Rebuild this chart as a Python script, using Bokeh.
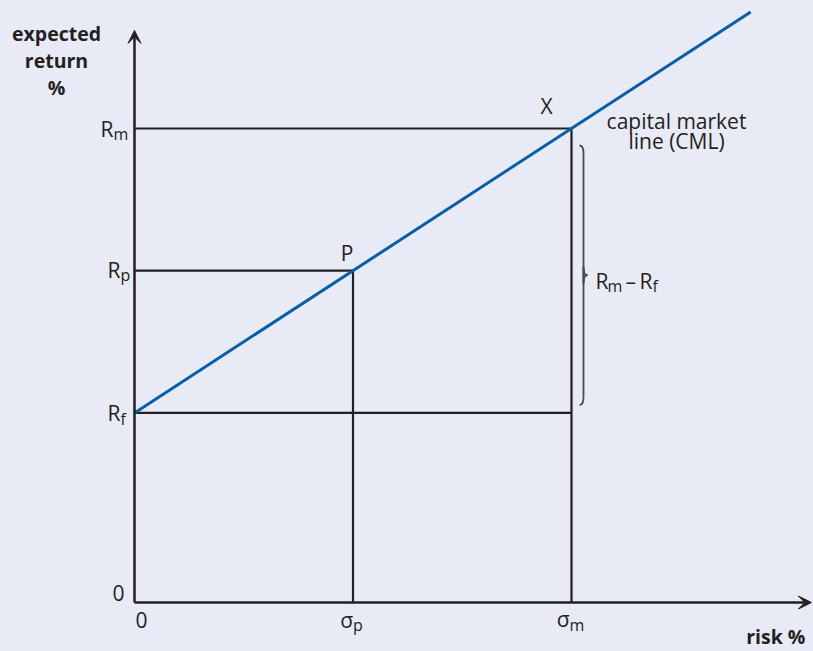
from bokeh.plotting import figure
from bokeh.models import Range1d, Arrow, VeeHead
from bokeh.core.properties import value
from bokeh.embed import file_html
from bokeh.resources import INLINE

# ---- data (chart units) ----
sigma_p = 5.0
sigma_m = 10.0
R_f = 4.0
R_p = 7.0
R_m = 10.0
cml_x_end = 14.1
x_axis_end = 15.49
y_axis_end = 12.07
cml_slope = (R_m - R_f) / sigma_m

# ---- layout ----
W, H = 813, 651
SX, SY = 43.7, 47.4          # pixels per unit
OX, OY = 134, 602            # pixel position of origin within the figure
BG = "#e8eaf6"
INK = "#231f20"
BLUE = "#0a5ea8"
FONT = value("Open Sans")
TEXT_SHIFT = -8              # renderer baseline correction, pixels

x0 = -OX / SX
y0 = -(H - OY) / SY
p = figure(width=W, height=H, output_backend="svg", toolbar_location=None,
           x_range=Range1d(x0, x0 + W / SX), y_range=Range1d(y0, y0 + H / SY),
           min_border=0, background_fill_color=BG, border_fill_color=BG)
p.axis.visible = False
p.grid.visible = False
p.outline_line_color = None


def at(xd, yd, dx=0, dy=0):
    """data anchor plus pixel offset (dy positive = downwards)"""
    return xd + dx / SX, yd - dy / SY


def txt(xd, yd, s, dx=0, dy=0, size=21, align="left", bold=False, color=INK):
    x, y = at(xd, yd, dx, dy + TEXT_SHIFT)
    p.text(x=[x], y=[y], text=[s], text_font=FONT, text_font_size=f"{size}px",
           text_align=align, text_baseline="alphabetic", text_color=color,
           text_font_style="bold" if bold else "normal")


SUB = 16
BOLD = 19.5

# ---- axes ----
for xe, ye in [(0, y_axis_end), (x_axis_end, 0)]:
    p.add_layout(Arrow(end=VeeHead(size=13, fill_color=INK, line_color=INK, line_width=1),
                       x_start=0, y_start=0, x_end=xe, y_end=ye,
                       line_color=INK, line_width=2.5))

# ---- guide lines ----
p.segment(x0=[0, 0, 0, sigma_p, sigma_m], y0=[R_m, R_p, R_f, R_p, R_m],
          x1=[sigma_m, sigma_p, sigma_m, sigma_p, sigma_m], y1=[R_m, R_p, R_f, 0, 0],
          line_color=INK, line_width=2.2)

# ---- capital market line ----
p.line(x=[0, cml_x_end], y=[R_f, R_f + cml_slope * cml_x_end], line_color=BLUE, line_width=3)

# ---- brace for Rm - Rf ----
top = at(sigma_m, R_m, 0, 17)[1]
bot = at(sigma_m, R_f, 0, -8)[1]
mid = (top + bot) / 2
ex = at(sigma_m, 0, 8)[0]
sx = at(sigma_m, 0, 12)[0]
tx = at(sigma_m, 0, 16)[0]
r = 8 / SY
BR = "#4a4a4a"
p.quadratic(x0=[ex, sx, tx, sx], y0=[top, mid - r, mid, bot + r],
            x1=[sx, tx, sx, ex], y1=[top - r, mid, mid + r, bot],
            cx=[sx, sx, sx, sx], cy=[top, mid, mid, bot],
            line_color=BR, line_width=1.8)
p.segment(x0=[sx, sx], y0=[top - r, mid + r], x1=[sx, sx], y1=[mid - r, bot + r],
          line_color=BR, line_width=1.8)

# ---- axis titles ----
txt(0, y_axis_end, "expected", dx=-78, dy=11, size=BOLD, align="center", bold=True)
txt(0, y_axis_end, "return", dx=-78, dy=38, size=BOLD, align="center", bold=True)
txt(0, y_axis_end, "%", dx=-78, dy=65, size=BOLD, align="center", bold=True)
txt(x_axis_end, 0, "risk %", dx=-6, dy=42, size=BOLD, align="right", bold=True)

# ---- y tick labels ----
txt(0, R_m, "R", dx=-21, dy=8, align="right")
txt(0, R_m, "m", dx=-21, dy=13, size=SUB)
txt(0, R_p, "R", dx=-14, dy=7, align="right")
txt(0, R_p, "p", dx=-14, dy=12, size=SUB)
txt(0, R_f, "R", dx=-14, dy=8, align="right")
txt(0, R_f, "f", dx=-14, dy=14, size=SUB)
txt(0, 0, "0", dx=-10, dy=-2, align="right")

# ---- x tick labels ----
txt(0, 0, "0", dx=1, dy=25)
txt(sigma_p, 0, "σ", dx=0, dy=25, align="right")
txt(sigma_p, 0, "p", dx=0, dy=30, size=SUB)
txt(sigma_m, 0, "σ", dx=-2, dy=24, align="right")
txt(sigma_m, 0, "m", dx=-2, dy=30, size=SUB)

# ---- point labels ----
txt(sigma_m, R_m, "X", dx=-25, dy=-15, align="center")
txt(sigma_p, R_p, "P", dx=-6, dy=-10, align="center")
txt(sigma_m, R_m, "capital market", dx=105, dy=0, align="center")
txt(sigma_m, R_m, "line (CML)", dx=105, dy=20, align="center")

# ---- brace label ----
ymid = (R_m + R_f) / 2 - 5 / SY
txt(sigma_m, ymid, "R", dx=24, dy=13)
txt(sigma_m, ymid, "m", dx=36, dy=18, size=SUB)
txt(sigma_m, ymid, "–", dx=54, dy=13)
txt(sigma_m, ymid, "R", dx=68, dy=13)
txt(sigma_m, ymid, "f", dx=81, dy=18, size=SUB)

html = file_html(p, INLINE)
html = html.replace("</head>", "<style>body{background:%s;}</style></head>" % BG, 1)
open("out.html", "w").write(html)
